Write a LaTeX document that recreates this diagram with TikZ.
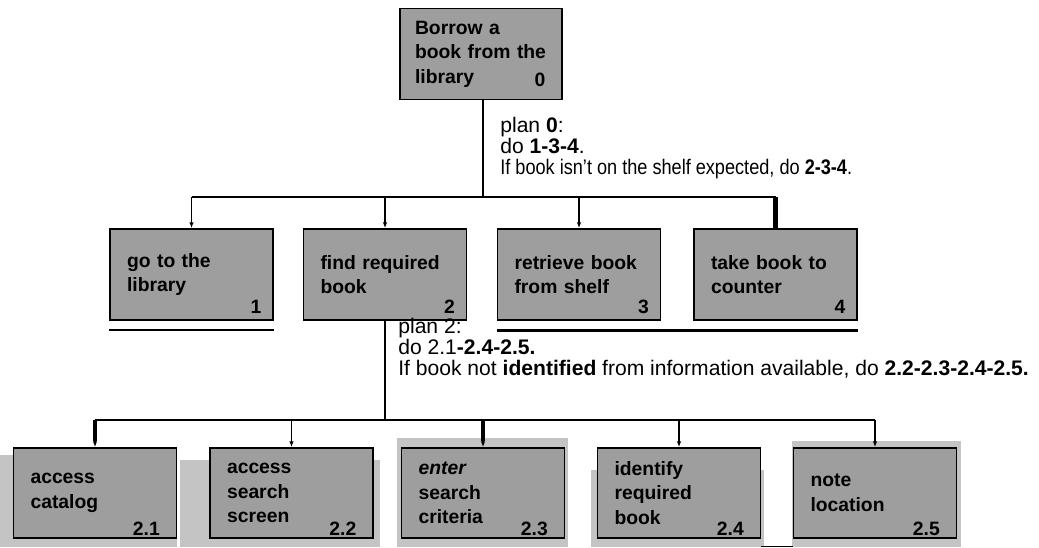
\documentclass[tikz,border=0pt]{standalone}
\usepackage{fontspec}
\setmainfont{Liberation Sans}
\usetikzlibrary{arrows.meta,positioning}

\tikzset{
  task/.style={draw=black,line width=0.8pt,fill=black!38,minimum height=1.82cm,text width=2.58cm,inner xsep=0.34cm,inner ysep=0pt,align=left,font=\fontsize{11}{14}\selectfont\bfseries},
  tasknum/.style={anchor=south east,inner sep=0pt,font=\fontsize{11}{14}\selectfont\bfseries},
  shade/.style={fill=black!23,draw=none},
  bar/.style={line width=1.1pt},
  drop/.style={line width=0.8pt,-{Latex[length=1.2mm,width=0.9mm]}},
  heavy/.style={line width=2.4pt,shorten >=0.12cm},
  plan/.style={anchor=north west,inner sep=0pt,align=left,font=\fontsize{12}{12}\selectfont}
}

\begin{document}
\begin{tikzpicture}[x=0.02cm,y=-0.02cm]
\useasboundingbox (0,0) rectangle (1039,548);
% shadows of the bottom row
\fill[shade] (0,455) rectangle (177,547);
\fill[shade] (180,460) rectangle (380,547);
\fill[shade] (397,438) rectangle (568,547);
\fill[shade] (591,470) rectangle (764,547);
\fill[shade] (792,441) rectangle (961,547);

% goal
\node[task,minimum width=3.24cm,inner xsep=0.3cm,text width=2.64cm] (b0) at (481,54) {Borrow a\\book from the\\library};
\node[tasknum] (n0) at ([xshift=-0.34cm,yshift=0.26cm]b0.south east) {0};
\coordinate (j0) at (483,197);
\node[plan] (p0) at (500,117) {plan \textbf{0}:\\do \textbf{1-3-4}.\\\scalebox{0.86}[1]{If book isn't on the shelf expected, do \textbf{2-3-4}.}};

% first level
\node[task] (b1) at (191.5,274.5) {go to the\\library};
\node[task] (b2) at (385,274.5) {find required\\book};
\node[task] (b3) at (579,274.5) {retrieve book\\from shelf};
\node[task] (b4) at (775.5,274.5) {take book to\\counter};
\foreach \i in {1,...,4}
  \node[tasknum] (n\i) at ([xshift=-0.24cm,yshift=0.14cm]b\i.south east) {\i};

\draw[bar] (b0.south -| j0) -- (j0);
\draw[bar] (b1.north |- j0) -- (b4.north |- j0);
\draw[drop] (b1.north |- j0) -- (b1.north);
\draw[drop] (b2.north |- j0) -- (b2.north);
\draw[drop] (b3.north |- j0) -- (b3.north);
\draw[heavy,shorten >=0pt] (b4.north |- j0) -- (b4.north);
\draw[line width=1.1pt] ([yshift=-0.18cm]b1.south west) -- ([yshift=-0.18cm]b1.south east);
\draw[line width=2pt] ([yshift=-0.2cm]b3.south west) -- ([yshift=-0.2cm]b4.south east);

% second level
\coordinate (j2) at (385,420);
\node[plan] (p2) at (398,318) {plan 2:\\do 2.1\textbf{-2.4-2.5.}\\If book not \textbf{identified} from information available, do \textbf{2.2-2.3-2.4-2.5.}};
\node[task,minimum height=1.8cm] (c1) at (95,493) {access\\catalog};
\node[task,minimum height=1.8cm] (c2) at (291.5,493) {access\\search\\screen};
\node[task,minimum height=1.8cm] (c3) at (483,493) {\textit{enter}\\search\\criteria};
\node[task,minimum height=1.8cm] (c4) at (679,493) {identify\\required\\book};
\node[task,minimum height=1.8cm] (c5) at (875,493) {note\\location};
\foreach \i in {1,...,5}
  \node[tasknum] (m\i) at ([xshift=-0.34cm,yshift=0.06cm]c\i.south east) {2.\i};

\draw[bar] (b2.south) -- (j2);
\draw[bar] (c1.north |- j2) -- (c5.north |- j2);
\foreach \i in {1,...,5}
  \draw[drop] (c\i.north |- j2) -- (c\i.north);
\draw[heavy] (c1.north |- j2) -- (c1.north);
\draw[heavy] (c3.north |- j2) -- (c3.north);
\draw[line width=0.6pt] ([yshift=-0.16cm]c4.south east) -- ([yshift=-0.16cm]c5.south west);
\end{tikzpicture}
\end{document}
